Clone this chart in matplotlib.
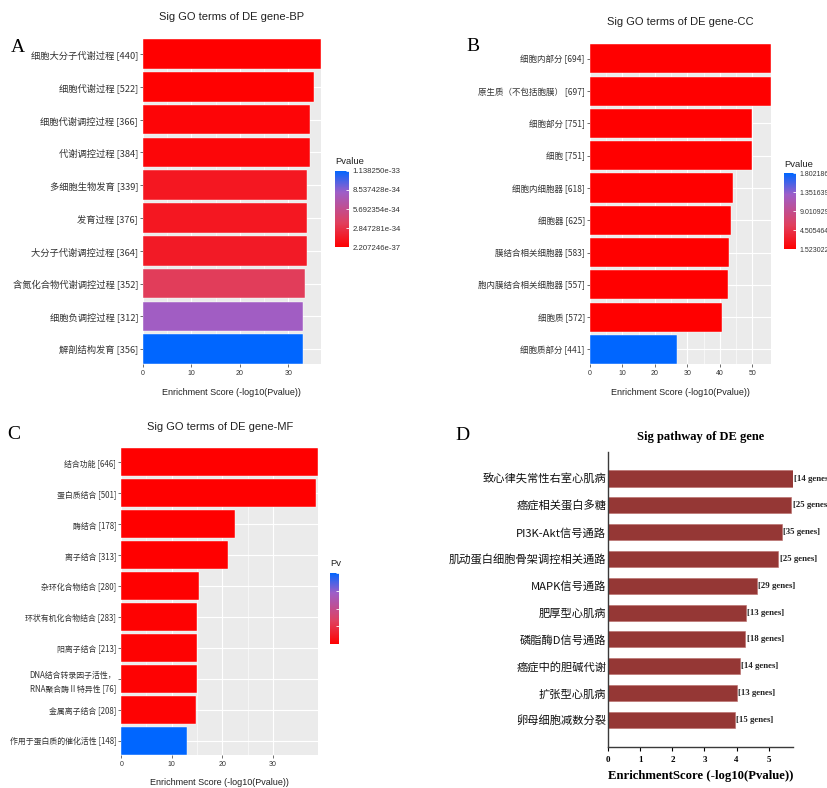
import numpy as np
import matplotlib
matplotlib.use('Agg')
import matplotlib.pyplot as plt
from matplotlib.colors import LinearSegmentedColormap, Normalize
from matplotlib.cm import ScalarMappable

plt.rcParams['font.family'] = ['Liberation Sans', 'Noto Sans CJK SC']
CJK = ['Noto Sans CJK SC', 'DejaVu Sans']
SERIF = ['Liberation Serif', 'Noto Sans CJK SC']

# ---- GO: biological process ----
bp_terms = ['细胞大分子代谢过程', '细胞代谢过程', '细胞代谢调控过程', '代谢调控过程', '多细胞生物发育',
            '发育过程', '大分子代谢调控过程', '含氮化合物代谢调控过程', '细胞负调控过程', '解剖结构发育']
bp_counts = [440, 522, 366, 384, 339, 376, 364, 352, 312, 356]
bp_pvalue = [2.207246e-37, 4.7e-36, 3.1e-35, 3.6e-35, 1.3e-34, 1.3e-34, 1.5e-34, 3.5e-34, 8.0e-34, 1.1382501e-33]

# ---- GO: cellular component ----
cc_terms = ['细胞内部分', '原生质（不包括胞膜）', '细胞部分', '细胞', '细胞内细胞器',
            '细胞器', '膜结合相关细胞器', '胞内膜结合相关细胞器', '细胞质', '细胞质部分']
cc_counts = [694, 697, 751, 751, 618, 625, 583, 557, 572, 441]
cc_pvalue = [1.523022e-56, 2.5e-56, 1.0e-50, 1.6e-50, 8.0e-45, 4.0e-44, 1.6e-43, 3.2e-43, 2.5e-41, 1.80218575e-27]

# ---- GO: molecular function ----
mf_terms = ['结合功能', '蛋白质结合', '酶结合', '离子结合', '杂环化合物结合', '环状有机化合物结合',
            '阳离子结合', 'DNA结合转录因子活性，\nRNA聚合酶Ⅱ特异性', '金属离子结合', '作用于蛋白质的催化活性']
mf_counts = [646, 501, 178, 313, 280, 283, 213, 76, 208, 148]
mf_pvalue = [1.0e-39, 3.2e-39, 2.5e-23, 6.3e-22, 4.0e-16, 8.0e-16, 1.0e-15, 1.25e-15, 1.4e-15, 1.0e-13]

# ---- KEGG pathways ----
kegg_terms = ['致心律失常性右室心肌病', '癌症相关蛋白多糖', 'PI3K-Akt信号通路', '肌动蛋白细胞骨架调控相关通路',
              'MAPK信号通路', '肥厚型心肌病', '磷脂酶D信号通路', '癌症中的胆碱代谢', '扩张型心肌病', '卵母细胞减数分裂']
kegg_genes = [14, 25, 35, 25, 29, 13, 18, 14, 13, 15]
kegg_score = [5.76, 5.71, 5.41, 5.30, 4.64, 4.28, 4.27, 4.11, 4.01, 3.95]

W, H = 828, 788
fig = plt.figure(figsize=(W / 100, H / 100), dpi=100)

pv_cmap = LinearSegmentedColormap.from_list(
    'pv', [(0, '#FF0000'), (0.32, '#E0405E'), (0.72, '#9E5EC8'), (1, '#0066FF')])


def add_ax(x0, y0, x1, y1):
    return fig.add_axes([x0 / W, 1 - y1 / H, (x1 - x0) / W, (y1 - y0) / H])


def ftext(x, y, s, **kw):
    return fig.text(x / W, 1 - y / H, s, **kw)


def go_panel(box, cbox, terms, counts, pvals, title, title_y, xlab_y, xticks,
             letter, letter_xy, cbar_title, label_fs, cbar_fs, show_cbar_labels=True):
    pvals = np.array(pvals)
    score = -np.log10(pvals)
    n = len(terms)
    pos = np.arange(n, 0, -1)
    norm = Normalize(vmin=pvals.min(), vmax=pvals.max())

    ax = add_ax(*box)
    ax.set_facecolor('#EBEBEB')
    ax.barh(pos, score, height=0.9, color=pv_cmap(norm(pvals)), edgecolor='white', linewidth=0.3, zorder=3)
    ax.set_xlim(0, score.max())
    ax.set_ylim(0.55, n + 0.45)
    ax.set_xticks(xticks)
    ax.set_xticks(np.array(xticks[:-1]) + 5, minor=True)
    ax.set_yticks(pos)
    ax.set_yticklabels([f'{t} [{c}]' for t, c in zip(terms, counts)], family=CJK, fontsize=label_fs,
                       color='#333333', linespacing=1.6)
    ax.tick_params(axis='x', labelsize=5, colors='#333333', length=2, width=0.5, pad=2)
    ax.tick_params(axis='y', length=2, width=0.5, color='#333333', pad=1.5)
    ax.tick_params(which='minor', length=0)
    ax.grid(which='major', color='white', linewidth=0.8, zorder=0)
    ax.grid(which='minor', axis='x', color='white', linewidth=0.4, zorder=0)
    ax.set_axisbelow(True)
    for s in ax.spines.values():
        s.set_visible(False)

    cx = (box[0] + box[2]) / 2
    ftext(cx, title_y, title, ha='center', va='center', fontsize=8, color='#222222')
    ftext(cx, xlab_y, 'Enrichment Score (-log10(Pvalue))', ha='center', va='center', fontsize=6.5, color='#222222')
    ftext(*letter_xy, letter, ha='center', va='center', fontsize=14, family=SERIF)

    # p-value legend
    cax = add_ax(*cbox)
    cb = fig.colorbar(ScalarMappable(norm=norm, cmap=pv_cmap), cax=cax)
    cb.outline.set_visible(False)
    ticks = np.linspace(pvals.min(), pvals.max(), 5)
    cb.set_ticks(ticks)
    cb.set_ticklabels([f'{v:.6e}' for v in ticks])
    cax.tick_params(length=2, width=0.6, color='white', direction='in', labelsize=cbar_fs,
                    labelcolor='#333333', pad=2.5, labelright=show_cbar_labels)
    ftext(cbox[0], cbox[1] - 9, cbar_title, ha='left', va='center', fontsize=6.8, color='#222222')
    return ax


go_panel((143, 39.3, 320.7, 364), (335, 170.7, 349, 247.3), bp_terms, bp_counts, bp_pvalue,
         'Sig GO terms of DE gene-BP', 17, 392.7, [0, 10, 20, 30], 'A', (18, 47), 'Pvalue', 6.7, 5.6)
go_panel((589.7, 44.3, 771.3, 364), (784, 173.3, 796, 249.3), cc_terms, cc_counts, cc_pvalue,
         'Sig GO terms of DE gene-CC', 21.7, 392.7, [0, 10, 20, 30, 40, 50], 'B', (473, 46.7), 'Pvalue', 6.1, 5.0)
go_panel((121.2, 448.3, 318.3, 755), (330, 572.7, 339, 644.3), mf_terms, mf_counts, mf_pvalue,
         'Sig GO terms of DE gene-MF', 426.7, 782.7, [0, 10, 20, 30], 'C', (14, 435), 'Pv', 5.7, 5.0,
         show_cbar_labels=False)

# ---- KEGG panel ----
axd = add_ax(608.3, 451.7, 793, 746.7)
kpos = np.arange(len(kegg_terms), 0, -1)
axd.barh(kpos, kegg_score, height=0.6, color='#953735', edgecolor='#B86A68', linewidth=0.4)
axd.set_xlim(0, max(kegg_score))
axd.set_ylim(0, len(kegg_terms) + 1)
axd.set_xticks(range(6))
axd.set_xticklabels([str(i) for i in range(6)], family=SERIF, fontweight='bold', fontsize=6.5)
axd.set_yticks(kpos)
axd.set_yticklabels(kegg_terms, family=CJK, fontsize=8.1, color='#111111')
axd.tick_params(axis='y', length=0, pad=1.5)
axd.tick_params(axis='x', length=3, width=0.8, pad=4)
for side in ['top', 'right']:
    axd.spines[side].set_visible(False)
for side in ['left', 'bottom']:
    axd.spines[side].set_linewidth(1.0)
    axd.spines[side].set_color('#3A3A3A')
for y, v, g in zip(kpos, kegg_score, kegg_genes):
    axd.text(v + 0.04, y, f'[{g} genes]', va='center', ha='left', family=SERIF,
             fontweight='bold', fontsize=6.3, color='#222222', clip_on=False)

ftext(700.7, 437.3, 'Sig pathway of DE gene', ha='center', va='center', fontsize=9,
      family=SERIF, fontweight='bold')
ftext(700.7, 775.7, 'EnrichmentScore (-log10(Pvalue))', ha='center', va='center', fontsize=9.2,
      family=SERIF, fontweight='bold')
ftext(462, 436, 'D', ha='center', va='center', fontsize=14, family=SERIF)

fig.savefig('out.png', dpi=100)
